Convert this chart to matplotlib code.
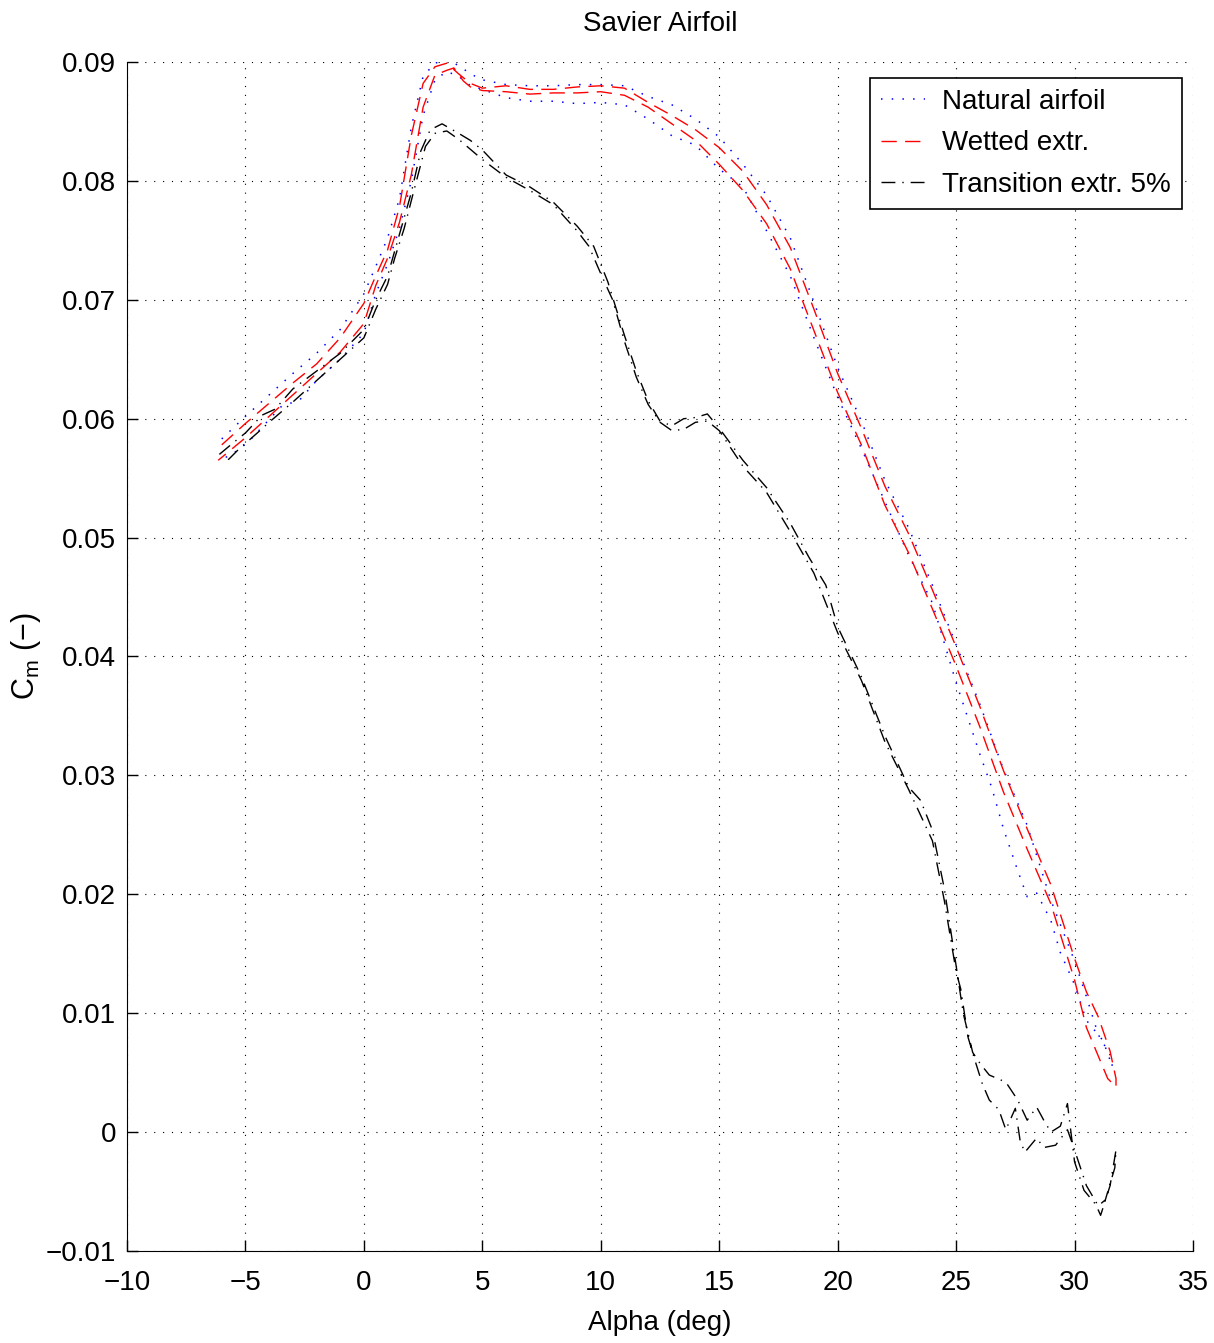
import matplotlib
matplotlib.use("Agg")
import matplotlib.pyplot as plt
import numpy as np

# ---- data --------------------------------------------------------------------
# each series is a sweep up in alpha followed by the sweep back down

nat_up_alpha = [-6.0, -5, -4, -3, -2, -1, 0, 0.5, 1, 1.5, 2, 2.5, 3, 3.5, 4, 4.5, 5, 6, 7, 8,
                9, 10, 11, 12, 13, 14, 15, 16, 17, 18, 19, 20, 21, 22, 23, 24, 25, 26, 27,
                28, 29, 30, 30.5, 31, 31.5, 31.6]
nat_up_cm = [0.0583, 0.0602, 0.0620, 0.0638, 0.0655, 0.0675, 0.0705, 0.0728, 0.0752, 0.0785,
             0.0845, 0.0888, 0.0899, 0.0902, 0.0897, 0.0890, 0.0885, 0.0881, 0.0880, 0.0880,
             0.0881, 0.0881, 0.0880, 0.0871, 0.0864, 0.0852, 0.0837, 0.0814, 0.0788, 0.0752,
             0.0698, 0.0643, 0.0598, 0.0548, 0.0508, 0.0460, 0.0410, 0.0360, 0.0305, 0.0258,
             0.0195, 0.0144, 0.0114, 0.0082, 0.0065, 0.0055]
nat_dn_alpha = [31.6, 31.2, 30.5, 30, 29.4, 29, 28.4, 28, 27.6, 27, 26.5, 26, 25, 24, 23, 22,
                21, 20, 19, 18, 17, 16, 15, 14, 13, 12, 11, 10, 9, 8, 7, 6, 5, 4.5, 4, 3.5, 3,
                2.5, 2, 1.5, 1, 0.5, 0, -1, -2, -2.7, -3.5, -4.9, -5.3, -5.7, -6.15]
nat_dn_cm = [0.0055, 0.0077, 0.0094, 0.0124, 0.0151, 0.0178, 0.0201, 0.0198, 0.0220, 0.0255,
             0.0290, 0.0318, 0.0378, 0.0445, 0.0485, 0.0530, 0.0575, 0.0618, 0.0668, 0.0720,
             0.0758, 0.0795, 0.0810, 0.0830, 0.0838, 0.0852, 0.0864, 0.0866, 0.0865, 0.0867,
             0.0867, 0.0870, 0.0877, 0.0880, 0.0888, 0.0892, 0.0885, 0.0855, 0.0800, 0.0760,
             0.0730, 0.0705, 0.0672, 0.0650, 0.0632, 0.0616, 0.0610, 0.0580, 0.0574, 0.0568,
             0.0567]

wet_up_alpha = [-6.0, -5, -4, -3, -2, -1, 0, 0.5, 1, 1.5, 2, 2.5, 3, 3.5, 4, 4.5, 5, 6, 7, 8,
                9, 10, 11, 12, 13, 14, 15, 16, 17, 18, 19, 20, 21, 22, 23, 24, 25, 26, 27,
                28, 29, 30, 30.5, 31, 31.5, 31.75]
wet_up_cm = [0.0578, 0.0596, 0.0613, 0.0630, 0.0646, 0.0668, 0.0697, 0.0720, 0.0742, 0.0778,
             0.0838, 0.0882, 0.0896, 0.0899, 0.0890, 0.0882, 0.0878, 0.0880, 0.0877, 0.0877,
             0.0879, 0.0880, 0.0878, 0.0866, 0.0855, 0.0843, 0.0828, 0.0808, 0.0780, 0.0744,
             0.0692, 0.0638, 0.0592, 0.0543, 0.0503, 0.0456, 0.0408, 0.0358, 0.0304, 0.0255,
             0.0208, 0.0146, 0.0118, 0.0097, 0.0068, 0.0045]
wet_dn_alpha = [31.75, 31.4, 31, 30.5, 30, 29, 28, 27, 26, 25, 24, 23, 22, 21, 20, 19, 18, 17,
                16, 15, 14, 13, 12, 11, 10, 9, 8, 7, 6, 5, 4.5, 4.2, 3.8, 3.5, 3, 2.5, 2, 1.5,
                1, 0.5, 0, -1, -2, -3, -4, -5, -6.15]
wet_dn_cm = [0.0038, 0.0045, 0.0064, 0.0088, 0.0128, 0.0192, 0.0238, 0.0286, 0.0341, 0.0392,
             0.0440, 0.0487, 0.0527, 0.0578, 0.0622, 0.0674, 0.0726, 0.0764, 0.0792, 0.0814,
             0.0834, 0.0848, 0.0862, 0.0872, 0.0875, 0.0874, 0.0874, 0.0873, 0.0875, 0.0876,
             0.0879, 0.0884, 0.0895, 0.0893, 0.0889, 0.0862, 0.0805, 0.0765, 0.0735, 0.0712,
             0.0680, 0.0656, 0.0638, 0.0620, 0.0602, 0.0584, 0.0565]

tr_up_alpha = [-6.1, -5.5, -5, -4.3, -3.75, -3, -2, -1, 0, 0.5, 1, 1.5, 2, 2.4, 2.8, 3.3, 4,
               4.5, 5, 6, 7, 8, 9, 9.7, 10.3, 11, 11.5, 12, 12.5, 13, 13.5, 14, 14.5, 15, 16,
               17, 18, 18.8, 19.5, 20, 21, 22, 23, 23.5, 24, 24.5, 25, 25.3, 25.7, 26, 26.4,
               27.1, 27.6, 28, 28.4, 28.7, 29, 29.4, 29.7, 30, 30.4, 30.9, 31.1, 31.5, 31.75]
tr_up_cm = [0.0570, 0.0580, 0.0588, 0.0603, 0.0608, 0.0625, 0.0640, 0.0655, 0.0675, 0.0700,
            0.0720, 0.0755, 0.0790, 0.0825, 0.0843, 0.0848, 0.0840, 0.0834, 0.0826, 0.0805,
            0.0795, 0.0782, 0.0762, 0.0745, 0.0715, 0.0670, 0.0640, 0.0615, 0.0598, 0.0594,
            0.0600, 0.0601, 0.0604, 0.0592, 0.0565, 0.0542, 0.0512, 0.0483, 0.0460, 0.0425,
            0.0383, 0.0333, 0.0290, 0.0279, 0.0254, 0.0205, 0.0140, 0.0100, 0.0067, 0.0058,
            0.0048, 0.0042, 0.0027, 0.0010, 0.0021, 0.0010, 0.0000, 0.0005, 0.0024, -0.0025,
            -0.0049, -0.0061, -0.0070, -0.0045, -0.0015]
tr_dn_alpha = [31.75, 31.7, 31.3, 31.0, 30.5, 30.0, 29.7, 29.2, 28.7, 28.4, 27.9, 27.7, 27.5,
               27.1, 26.8, 26.4, 26.1, 25.8, 25.5, 25.2, 25, 24.5, 24, 23, 22, 21, 20, 19, 18,
               17, 16, 15, 14.5, 14, 13.5, 13, 12.5, 12, 11.5, 11, 10.5, 10, 9.5, 9, 8, 7, 6,
               5, 4, 3.5, 3, 2.6, 2.1, 1.7, 1.3, 1, 0.5, 0, -1, -2, -3, -4, -4.5, -5.3, -5.7,
               -6.0]
tr_dn_cm = [-0.0015, -0.0030, -0.0057, -0.0062, -0.0045, -0.0015, 0.0002, -0.0011, -0.0013,
            -0.0005, -0.0017, -0.0007, 0.0020, 0.0002, 0.0019, 0.0027, 0.0041, 0.0060, 0.0080,
            0.0120, 0.0135, 0.0195, 0.0245, 0.0288, 0.0328, 0.0380, 0.0420, 0.0470, 0.0505,
            0.0538, 0.0560, 0.0590, 0.0598, 0.0597, 0.0591, 0.0590, 0.0597, 0.0612, 0.0635,
            0.0665, 0.0700, 0.0722, 0.0745, 0.0758, 0.0780, 0.0792, 0.0803, 0.0818, 0.0835,
            0.0842, 0.0840, 0.0829, 0.0791, 0.0760, 0.0735, 0.0713, 0.0692, 0.0668, 0.0650,
            0.0632, 0.0614, 0.0597, 0.0588, 0.0574, 0.0566, 0.0563]

xticks = [-10, -5, 0, 5, 10, 15, 20, 25, 30, 35]
yticks = [-0.01, 0, 0.01, 0.02, 0.03, 0.04, 0.05, 0.06, 0.07, 0.08, 0.09]
ytick_labels = ["\u22120.01", "0", "0.01", "0.02", "0.03", "0.04", "0.05", "0.06", "0.07",
                "0.08", "0.09"]
xtick_labels = ["\u221210", "\u22125", "0", "5", "10", "15", "20", "25", "30", "35"]

# ---- plot --------------------------------------------------------------------
plt.rcParams["font.family"] = ["Liberation Sans", "DejaVu Sans"]
plt.rcParams["font.size"] = 20
plt.rcParams["mathtext.fontset"] = "custom"
plt.rcParams["mathtext.rm"] = "Liberation Sans"
plt.rcParams["mathtext.it"] = "Liberation Sans"

fig = plt.figure(figsize=(12.14, 13.43), dpi=100)
ax = fig.add_axes([127 / 1214, 1 - 1251 / 1343, (1193 - 127) / 1214, (1251 - 62) / 1343])

ax.plot(nat_up_alpha + nat_dn_alpha, nat_up_cm + nat_dn_cm, color="blue",
        linestyle=(0, (1, 6)), linewidth=1.1, label="Natural airfoil")
ax.plot(wet_up_alpha + wet_dn_alpha, wet_up_cm + wet_dn_cm, color="red",
        linestyle=(0, (11, 6)), linewidth=1.0, label="Wetted extr.")
ax.plot(tr_up_alpha + tr_dn_alpha, tr_up_cm + tr_dn_cm, color="black",
        linestyle=(0, (10, 5, 1, 5)), linewidth=1.0, label="Transition extr. 5%")

ax.set_xlim(-10, 35)
ax.set_ylim(-0.01, 0.09)
ax.set_xticks(xticks)
ax.set_xticklabels(xtick_labels)
ax.set_yticks(yticks)
ax.set_yticklabels(ytick_labels)
ax.tick_params(direction="in", length=8, width=1, labelsize=20)
ax.tick_params(axis="y", pad=8)
ax.tick_params(axis="x", pad=14)
ax.grid(True, color="black", linestyle=(0, (1, 7)), linewidth=0.8)
ax.spines["top"].set_visible(False)
ax.spines["right"].set_visible(False)

ax.set_title("Savier Airfoil", fontsize=20, pad=22)
ax.set_xlabel("Alpha (deg)", fontsize=20, labelpad=10)
ax.set_ylabel("C$_\\mathrm{m}$ (\u2212)", fontsize=22, labelpad=2)

leg = ax.legend(loc="upper right", bbox_to_anchor=(0.9897, 0.9865), borderaxespad=0,
                fontsize=20, frameon=True, fancybox=False, edgecolor="black", framealpha=1,
                handlelength=1.6, borderpad=0.4, labelspacing=0.55, handletextpad=0.6)
leg.get_frame().set_linewidth(1.2)

fig.savefig("out.png", dpi=100, facecolor="white")
